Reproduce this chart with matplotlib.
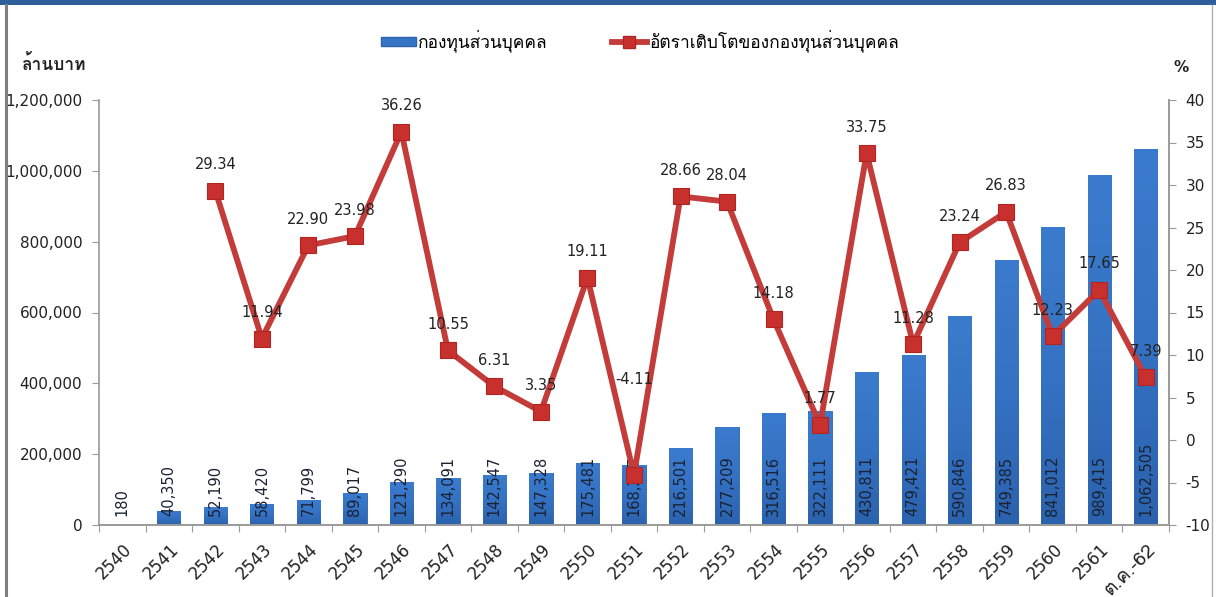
import numpy as np
import matplotlib
matplotlib.use("Agg")
import matplotlib.pyplot as plt
from matplotlib import font_manager
from matplotlib.ft2font import FT2Font
from matplotlib.patches import Rectangle
from matplotlib.lines import Line2D
from matplotlib.colors import LinearSegmentedColormap
import matplotlib.transforms as mtransforms

# ---------------- data ----------------
categories = ["2540", "2541", "2542", "2543", "2544", "2545", "2546", "2547",
              "2548", "2549", "2550", "2551", "2552", "2553", "2554", "2555",
              "2556", "2557", "2558", "2559", "2560", "2561", "ต.ค.-62"]
fund_values = [180, 40350, 52190, 58420, 71799, 89017, 121290, 134091,
               142547, 147328, 175481, 168277, 216501, 277209, 316516, 322111,
               430811, 479421, 590846, 749385, 841012, 989415, 1062505]
growth_values = [np.nan, np.nan, 29.34, 11.94, 22.90, 23.98, 36.26, 10.55,
                 6.31, 3.35, 19.11, -4.11, 28.66, 28.04, 14.18, 1.77,
                 33.75, 11.28, 23.24, 26.83, 12.23, 17.65, 7.39]
bar_series_name = "กองทุนส่วนบุคคล"
line_series_name = "อัตราเติบโตของกองทุนส่วนบุคคล"
left_unit = "ล้านบาท"
right_unit = "%"
left_ticks = [0, 200000, 400000, 600000, 800000, 1000000, 1200000]
right_ticks = list(range(-10, 45, 5))

# ---------------- fonts ----------------
def find_family(ch):
    seen = set()
    for f in font_manager.fontManager.ttflist:
        if f.fname in seen:
            continue
        seen.add(f.fname)
        try:
            if ord(ch) in FT2Font(f.fname).get_charmap():
                return f.name
        except Exception:
            pass
    return None

thai = find_family("ก")
fam = ["DejaVu Sans"] + ([thai] if thai else [])
fam_thai_first = ([thai] if thai else []) + ["DejaVu Sans"]
plt.rcParams["font.family"] = fam
plt.rcParams["axes.unicode_minus"] = False

BAR_COLOR = "#3574c4"
BAR_EDGE = "#2c63ad"
LINE_COLOR = "#c43c3a"
MARK_COLOR = "#c8302d"
TXT = "#222222"
AX_COLOR = "#9a9a9a"

fig = plt.figure(figsize=(12.16, 5.97), dpi=100)
ax = fig.add_axes([99 / 1216, 72 / 597, 1070 / 1216, 425 / 597])
ax2 = ax.twinx()

x = np.arange(len(categories))
bars = ax.bar(x, fund_values, width=0.5, color=BAR_COLOR, edgecolor=BAR_EDGE,
              linewidth=0.6, zorder=2)
# gradient fill for bars
cmap = LinearSegmentedColormap.from_list("g", ["#2b62ad", "#3572c3", "#3b7bcd"])
grad = np.linspace(0, 1, 256).reshape(-1, 1)
for b in bars:
    bx, bw, bh = b.get_x(), b.get_width(), b.get_height()
    im = ax.imshow(grad, cmap=cmap, origin="lower", aspect="auto",
                   extent=(bx, bx + bw, 0, bh), zorder=2.1,
                   interpolation="bilinear")
    im.set_clip_path(b)
ax.set_aspect("auto")

for xi, v in zip(x, fund_values):
    ax.text(xi, 25000, f"{v:,}", rotation=90, ha="center", va="bottom",
            fontsize=10.5, color="#1a2233", zorder=3)

ax.set_xlim(-0.5, len(categories) - 0.5)
ax.set_ylim(0, 1200000)
ax.set_yticks(left_ticks)
ax.set_yticklabels([f"{t:,}" for t in left_ticks])
ax.set_xticks(np.arange(len(categories) + 1) - 0.5, minor=False)
ax.set_xticklabels([])
ax.tick_params(axis="x", length=5, color=AX_COLOR, direction="out")
ax.tick_params(axis="y", length=5, color=AX_COLOR, labelsize=11,
               labelcolor=TXT, pad=7)

# category labels (rotated)
offset = mtransforms.ScaledTranslation(7 / 100, -22 / 100, fig.dpi_scale_trans)
for xi, c in zip(x, categories):
    isnum = c.isdigit()
    ax.text(xi, 0, c, transform=mtransforms.blended_transform_factory(
        ax.transData, ax.transAxes) + offset, rotation=45, ha="right",
        va="center", rotation_mode="anchor",
        fontsize=12 if isnum else 14, color=TXT,
        family=fam if isnum else fam_thai_first)

for a in (ax, ax2):
    a.spines["top"].set_visible(False)
    for s in ("left", "right", "bottom"):
        a.spines[s].set_color(AX_COLOR)
        a.spines[s].set_linewidth(1.2)

g = np.array(growth_values, dtype=float)
ax2.plot(x, g, color=LINE_COLOR, linewidth=4.2, marker="s", markersize=11,
         markerfacecolor=MARK_COLOR, markeredgecolor="#b02522",
         markeredgewidth=0.8, zorder=4)
ax2.set_ylim(-10, 40)
ax2.set_yticks(right_ticks)
ax2.tick_params(axis="y", length=5, color=AX_COLOR, labelsize=11,
                labelcolor=TXT, pad=7)
ax2.spines["left"].set_visible(False)

label_dy = {-4.11: 95}
for xi, v in zip(x, g):
    if np.isnan(v):
        continue
    dy = label_dy.get(v, 26)
    ax2.annotate(f"{v:.2f}", (xi, v), xytext=(0, dy * 0.72),
                 textcoords="offset points", ha="center", va="center",
                 fontsize=10.5, color=TXT, zorder=5)

# units
fig.text(22 / 1216, 1 - 63 / 597, left_unit, fontsize=12.5, fontweight="bold",
         color=TXT, va="center", ha="left", family=fam_thai_first)
fig.text(1181 / 1216, 1 - 68 / 597, right_unit, fontsize=11,
         fontweight="bold", color=TXT, va="center", ha="center")

# legend
handles = [Rectangle((0, 0), 1, 1, facecolor=BAR_COLOR, edgecolor=BAR_EDGE),
           Line2D([0], [0], color=LINE_COLOR, linewidth=4.2, marker="s",
                  markersize=9, markerfacecolor=MARK_COLOR,
                  markeredgecolor="#b02522")]
leg = fig.legend(handles, [bar_series_name, line_series_name], ncol=2,
                 loc="center", bbox_to_anchor=(640 / 1216, 1 - 41 / 597),
                 frameon=False, handlelength=2.0,
                 handleheight=0.45, columnspacing=3.7, handletextpad=0.15,
                 prop={"family": fam_thai_first, "size": 12.5})

# outer frame
fig.patches.append(Rectangle((0, 1 - 5 / 597), 1, 5 / 597,
                             transform=fig.transFigure, facecolor="#2f5e9c",
                             edgecolor="none"))
fig.lines.append(Line2D([6 / 1216, 6 / 1216], [0, 1 - 5 / 597],
                        transform=fig.transFigure, color="#7f7f7f",
                        linewidth=2.2))
fig.lines.append(Line2D([1212 / 1216, 1212 / 1216], [0, 1 - 5 / 597],
                        transform=fig.transFigure, color="#b0b0b0",
                        linewidth=1.0))

fig.savefig("out.png", dpi=100)
